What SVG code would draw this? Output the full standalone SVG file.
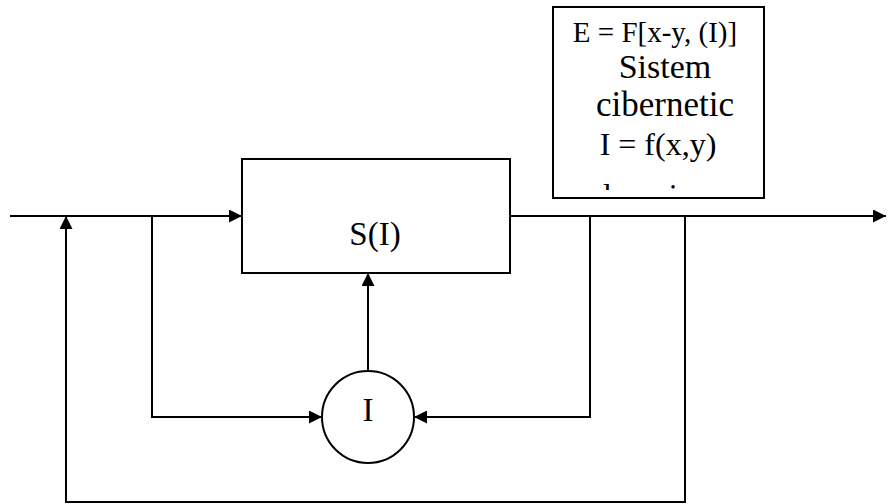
<svg xmlns="http://www.w3.org/2000/svg" width="888" height="504" viewBox="0 0 888 504">
<style>
.ln{fill:none;stroke:#000;stroke-width:2}
.bx{fill:#fff;stroke:#000;stroke-width:2}
.t{font-family:"Liberation Serif","Times New Roman",serif;fill:#000;text-anchor:middle}
</style>
<defs>
<marker id="ah" viewBox="0 0 13 13" refX="13" refY="6.5" markerWidth="13" markerHeight="13" markerUnits="userSpaceOnUse" orient="auto">
<path d="M0,0 L13,6.5 L0,13 Z" fill="#000"/>
</marker>
<clipPath id="clipE"><rect x="554" y="8" width="209" height="182"/></clipPath>
</defs>
<g id="connectors">
<line class="ln" x1="10" y1="216" x2="242" y2="216" marker-end="url(#ah)"/>
<line class="ln" x1="510" y1="216" x2="886" y2="216" marker-end="url(#ah)"/>
<polyline class="ln" points="685,216 685,502 66,502 66,216" marker-end="url(#ah)"/>
<polyline class="ln" points="152,216 152,417 322,417" marker-end="url(#ah)"/>
<polyline class="ln" points="590,216 590,417 414,417" marker-end="url(#ah)"/>
<line class="ln" x1="368" y1="370" x2="368" y2="273" marker-end="url(#ah)"/>
</g>
<g id="node-S">
<rect class="bx" x="242" y="159" width="268" height="114"/>
<text class="t" x="375" y="245" font-size="33">S(I)</text>
</g>
<g id="node-I">
<circle class="bx" cx="368" cy="417" r="46"/>
<text class="t" x="368" y="421" font-size="33">I</text>
</g>
<g id="node-E">
<rect class="bx" x="553" y="7" width="211" height="191"/>
<g clip-path="url(#clipE)">
<text class="t" x="655" y="42" font-size="29">E = F[x-y, (I)]</text>
<text class="t" x="665" y="78" font-size="34">Sistem</text>
<text class="t" x="665" y="116" font-size="35">cibernetic</text>
<text class="t" x="658" y="155" font-size="32">I = f(x,y)</text>
<text x="603" y="206" font-size="32" font-family="Liberation Serif, serif">locuri</text>
</g>
</g>
</svg>
